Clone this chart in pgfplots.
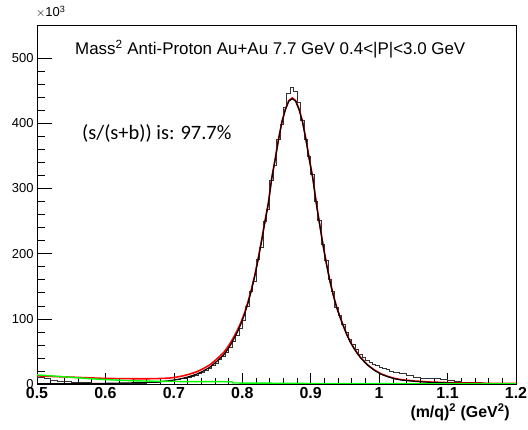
\documentclass[border=0pt]{standalone}
\usepackage{pgfplots}
\pgfplotsset{compat=1.18}
\usepackage{fontspec}
\setmainfont{Liberation Sans}
\newfontfamily\calibri{Carlito}
\definecolor{rootgreen}{RGB}{0,255,0}
\definecolor{rootred}{RGB}{255,0,0}
\begin{document}
\begin{tikzpicture}
\useasboundingbox (0,0) rectangle (528bp,430bp);
\begin{axis}[
  at={(37bp,46bp)}, anchor=south west,
  scale only axis, width=479bp, height=359bp,
  xmin=0.5, xmax=1.2, ymin=0, ymax=551,
  axis line style={line width=0.8pt},
  tick align=inside, xtick pos=bottom, ytick pos=left,
  xtick={0.5,0.6,0.7,0.8,0.9,1.0,1.1,1.2},
  xticklabels={0.5,0.6,0.7,0.8,0.9,1,1.1,1.2},
  minor x tick num=4,
  ytick={0,100,200,300,400,500},
  minor y tick num=4,
  xtick style={black, line width=0.6pt, /pgfplots/major tick length=10.5bp, /pgfplots/minor tick length=5.5bp},
  ytick style={black, line width=0.6pt, /pgfplots/major tick length=14.5bp, /pgfplots/minor tick length=7.5bp},
  /pgf/number format/assume math mode=true,
  yticklabel style={font=\fontsize{13}{15}\selectfont},
  xticklabel style={font=\bfseries\fontsize{16}{18}\selectfont},
  clip=true,
]
% data histogram (left bin edges)
\addplot[const plot, black!80, line width=0.6pt] coordinates {
(0.50,11) (0.51,8) (0.52,5) (0.53,4) (0.54,3.5) (0.55,3) (0.56,2.6) (0.57,2.2) (0.58,1.5) (0.59,1.3)
(0.60,1.2) (0.61,1.2) (0.62,1.3) (0.63,1.4) (0.64,1.6) (0.65,1.8) (0.66,2.2) (0.67,2.6) (0.68,3.5) (0.69,4.5)
(0.700,6.5) (0.705,7.5) (0.710,8.5) (0.715,9.5) (0.720,11) (0.725,12.5) (0.730,14) (0.735,16) (0.740,18.5) (0.745,21)
(0.750,24) (0.755,28) (0.760,32) (0.765,38) (0.770,43) (0.775,49) (0.780,56) (0.785,65) (0.790,74) (0.795,85)
(0.800,98) (0.805,119) (0.810,143) (0.815,158) (0.820,191) (0.825,210) (0.830,250) (0.835,268) (0.840,313) (0.845,336)
(0.850,376) (0.855,398) (0.860,425) (0.865,446) (0.870,455) (0.875,449) (0.880,432) (0.885,405) (0.890,375) (0.895,350)
(0.900,322) (0.905,280) (0.910,252) (0.915,214) (0.920,190) (0.925,160) (0.930,142) (0.935,118) (0.940,106) (0.945,92)
(0.950,80) (0.955,69) (0.960,61) (0.965,53) (0.970,46) (0.975,41) (0.980,36) (0.985,33) (0.990,30) (0.995,28)
(1.000,26) (1.005,24) (1.010,22) (1.015,20)
(1.02,18.5) (1.03,16) (1.04,13) (1.05,11) (1.06,9.5) (1.07,8.5) (1.08,8) (1.09,7) (1.10,5.5) (1.11,4)
(1.12,3) (1.13,2.5) (1.14,2) (1.15,1.6) (1.16,1.3) (1.17,1) (1.18,0) (1.20,0)
};
% total fit (red)
\addplot[rootred, line width=1.6pt] coordinates {
(0.50,12.5) (0.55,10.5) (0.60,8.5) (0.65,8.0) (0.673,8.2) (0.693,9) (0.703,10.4) (0.713,12.4) (0.723,15.2) (0.733,18.6)
(0.743,23.6) (0.753,29.6) (0.763,38.6) (0.773,48.5) (0.778,55.5) (0.783,63.5) (0.788,73) (0.793,83) (0.798,94.5) (0.803,108.3)
(0.808,125) (0.813,144) (0.818,165.8) (0.823,191.6) (0.828,219.5) (0.833,249.5) (0.838,277.4) (0.843,316.3) (0.848,345.2) (0.853,376.2)
(0.858,403.2) (0.863,422.1) (0.868,435) (0.873,439) (0.878,435) (0.883,422) (0.888,403) (0.893,376) (0.898,345) (0.903,316.9)
(0.908,278.9) (0.913,245.8) (0.918,213.8) (0.923,184.7) (0.928,158.7) (0.933,136.7) (0.938,117.6) (0.943,102.6) (0.948,88.6) (0.953,75.6)
(0.958,64.6) (0.963,55.5) (0.968,47.5) (0.973,40.5) (0.983,29.5) (0.993,21.5) (1.003,15.5) (1.013,11.5) (1.023,8.5) (1.033,6.5)
(1.053,4.5) (1.073,3.1) (1.103,2) (1.153,1.1) (1.2,0.7)
};
% signal fit (black)
\addplot[black, line width=1.2pt] coordinates {
(0.50,0.3) (0.55,0.6) (0.60,1.0) (0.65,2.0) (0.673,3) (0.693,5) (0.703,6.6) (0.713,8.7) (0.723,11.5) (0.733,15)
(0.743,20) (0.753,26) (0.763,35) (0.773,45) (0.778,52) (0.783,60) (0.788,70) (0.793,80) (0.798,92) (0.803,106)
(0.808,123) (0.813,142) (0.818,164) (0.823,190) (0.828,218) (0.833,248) (0.838,276) (0.843,315) (0.848,344) (0.853,375)
(0.858,402) (0.863,421) (0.868,434) (0.873,438) (0.878,434) (0.883,421) (0.888,402) (0.893,375) (0.898,344) (0.903,316)
(0.908,278) (0.913,245) (0.918,213) (0.923,184) (0.928,158) (0.933,136) (0.938,117) (0.943,102) (0.948,88) (0.953,75)
(0.958,64) (0.963,55) (0.968,47) (0.973,40) (0.983,29) (0.993,21) (1.003,15) (1.013,11) (1.023,8) (1.033,6)
(1.053,4) (1.073,2.6) (1.103,1.5) (1.153,0.7) (1.2,0.3)
};
% background (green)
\addplot[rootgreen, line width=1.4pt] coordinates {
(0.50,14) (0.52,12.5) (0.54,11) (0.56,9.5) (0.58,8) (0.60,6.8) (0.62,5.8) (0.64,5) (0.66,4.5) (0.68,4.1)
(0.70,3.8) (0.74,3.6) (0.785,3.5) (0.786,1.5) (0.85,1.2) (0.90,0.8) (1.00,0.5) (1.20,0.3)
};
\node[anchor=base west, inner sep=0pt, font=\fontsize{17}{20}\selectfont] at (rel axis cs:0.0793,0.918)
  {Mass\textsuperscript{2} Anti-Proton Au+Au 7.7 GeV 0.4<|P|<3.0 GeV};
\node[anchor=base west, inner sep=0pt, font=\calibri\fontsize{20.5}{24}\selectfont] at (rel axis cs:0.094,0.682)
  {(s/(s+b)) is: 97.7\%};
\end{axis}
\node[anchor=south west, inner sep=0pt, font=\fontsize{13}{15}\selectfont] at (36bp,412bp) {$\times$10\textsuperscript{3}};
\node[anchor=east, inner sep=0pt, font=\bfseries\fontsize{16}{18}\selectfont] at (510bp,18bp) {(m/q)\textsuperscript{2} (GeV\textsuperscript{2})};
\end{tikzpicture}
\end{document}
